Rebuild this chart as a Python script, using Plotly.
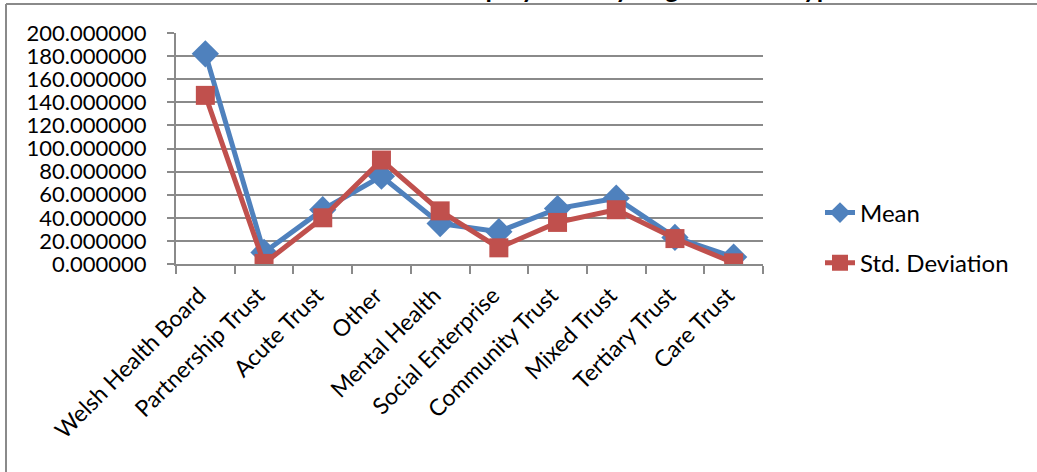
import plotly.graph_objects as go

# Organisation types along the category axis
categories = [
    "Welsh Health Board", "Partnership Trust", "Acute Trust", "Other",
    "Mental Health", "Social Enterprise", "Community Trust", "Mixed Trust",
    "Tertiary Trust", "Care Trust",
]
mean_values = [182, 10, 47, 76, 35, 28, 48, 57, 23, 6]
std_values = [146, 0.5, 40, 90, 46, 14, 36, 47, 22, 1]

y_ticks = [0, 20, 40, 60, 80, 100, 120, 140, 160, 180, 200]

W, H = 1037, 472
L, R, T, B = 176, 274, 33, 208
PW, PH = W - L - R, H - T - B

def px_x(x):
    return (x - L) / PW

def px_y(y):
    return (H - B - y) / PH

FONT = "Lato"
GRID = "#8a8a8a"

fig = go.Figure()
fig.add_trace(go.Scatter(
    x=categories, y=mean_values, name="Mean", mode="lines+markers",
    line=dict(color="#4F81BD", width=5),
    marker=dict(symbol="diamond", size=21, color="#4F81BD"),
    legendgroup="a",
))
fig.add_trace(go.Scatter(
    x=categories, y=std_values, name="Std. Deviation", mode="lines+markers",
    line=dict(color="#C0504D", width=5),
    marker=dict(symbol="square", size=19, color="#C0504D"),
    legendgroup="b",
))

# chart frame (left and top edges)
fig.add_shape(type="line", xref="paper", yref="paper",
              x0=px_x(6), x1=px_x(1100), y0=px_y(4), y1=px_y(4),
              line=dict(color=GRID, width=2))
fig.add_shape(type="line", xref="paper", yref="paper",
              x0=px_x(6), x1=px_x(6), y0=px_y(4), y1=px_y(520),
              line=dict(color=GRID, width=2))

fig.add_annotation(
    text="<b>Employment by Organisation Type</b>",
    xref="paper", yref="paper", x=px_x(647), y=px_y(6),
    xanchor="center", yanchor="bottom", showarrow=False,
    font=dict(family=FONT, size=26, color="black"),
)

fig.update_layout(
    width=W, height=H,
    margin=dict(l=L, r=R, t=T, b=B, autoexpand=False),
    paper_bgcolor="white", plot_bgcolor="white",
    font=dict(family=FONT, size=22, color="black"),
    showlegend=True,
    legend=dict(
        x=px_x(820), y=px_y(238), xanchor="left", yanchor="middle",
        font=dict(family=FONT, size=24, color="black"),
        tracegroupgap=16, bgcolor="rgba(0,0,0,0)",
    ),
    xaxis=dict(
        type="category", range=[-0.5, 9.5], tickangle=-45, showgrid=False,
        showline=True, linecolor=GRID, linewidth=2,
        ticks="outside", tickson="boundaries", ticklen=8,
        tickcolor=GRID, tickwidth=2,
        ticklabelstandoff=7, ticklabelshift=-6,
        tickfont=dict(family=FONT, size=23, color="black"),
    ),
    yaxis=dict(
        range=[0, 200], tickvals=y_ticks, tickformat=".6f",
        showgrid=True, gridcolor=GRID, gridwidth=2,
        showline=True, linecolor=GRID, linewidth=2,
        ticks="outside", ticklen=7, tickcolor=GRID, tickwidth=2,
        ticklabelstandoff=16, zeroline=False,
        tickfont=dict(family=FONT, size=22, color="black"),
    ),
)

fig.write_html("out.html")
